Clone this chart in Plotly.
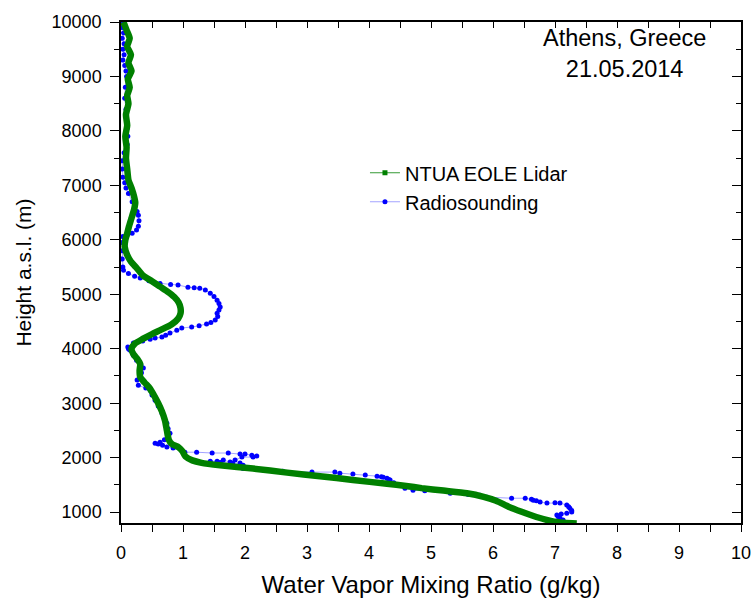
import plotly.graph_objects as go

# Lidar (NTUA EOLE) water vapor mixing ratio profile
lidar_wvmr = [0.04, 0.09, 0.14, 0.10, 0.16, 0.12, 0.17, 0.11, 0.14, 0.10, 0.12, 0.08, 0.10, 0.07, 0.09,
              0.08, 0.10, 0.12, 0.17, 0.21, 0.23, 0.21, 0.17, 0.13, 0.10, 0.07, 0.06, 0.10, 0.16, 0.24,
              0.36, 0.50, 0.63, 0.75, 0.86, 0.93, 0.96, 0.96, 0.92, 0.82, 0.65, 0.50, 0.35, 0.22, 0.17,
              0.20, 0.27, 0.31, 0.30, 0.31, 0.38, 0.46, 0.53, 0.60, 0.66, 0.71, 0.74, 0.77, 0.82, 0.93,
              0.99, 1.04, 1.15, 1.30, 1.60, 2.13, 2.68, 3.21, 3.74, 4.29, 4.60, 4.85, 5.20, 5.58, 5.85,
              6.05, 6.25, 6.45, 6.70, 6.95, 7.15, 7.35]
lidar_height = [10000, 9850, 9700, 9550, 9400, 9250, 9100, 8950, 8800, 8650, 8500, 8300, 8100, 7900, 7700,
                7500, 7300, 7100, 6950, 6800, 6680, 6550, 6400, 6250, 6120, 6000, 5870, 5720, 5600, 5500,
                5340, 5240, 5140, 5050, 4950, 4850, 4750, 4650, 4550, 4450, 4350, 4270, 4180, 4090, 4000,
                3900, 3800, 3720, 3600, 3480, 3380, 3280, 3150, 3000, 2850, 2680, 2500, 2330, 2250, 2190,
                2120, 2020, 1950, 1905, 1860, 1800, 1725, 1660, 1590, 1520, 1480, 1440, 1395, 1345, 1280,
                1210, 1100, 1010, 910, 835, 805, 790]

# Radiosounding profile
radio_wvmr = [0.03, 0.02, 0.04, 0.02, 0.05, 0.03, 0.05, 0.03, 0.06, 0.08, 0.09, 0.07, 0.06, 0.08, 0.09,
              0.10, 0.11, 0.10, 0.05, 0.02, 0.02, 0.03, 0.06, 0.08, 0.12, 0.18, 0.22, 0.26, 0.28, 0.29,
              0.28, 0.25, 0.18, 0.10, 0.03, 0.02, 0.02, 0.02, 0.03, 0.04, 0.12, 0.22, 0.31, 0.45, 0.63,
              0.80, 0.92, 1.08, 1.18, 1.27, 1.36, 1.44, 1.50, 1.55, 1.58, 1.60, 1.58, 1.55, 1.56, 1.52,
              1.45, 1.38, 1.26, 1.14, 0.98, 0.90, 0.79, 0.72, 0.66, 0.55, 0.47, 0.35, 0.20, 0.11, 0.12,
              0.14, 0.20, 0.25, 0.32, 0.36, 0.33, 0.26, 0.28, 0.40, 0.47, 0.50, 0.55, 0.60, 0.66, 0.70,
              0.74, 0.76, 0.79, 0.76, 0.70, 0.63, 0.55, 0.60, 0.67, 0.74, 0.84, 1.03, 1.22, 1.47, 1.73,
              1.92, 2.00, 2.11, 2.19, 2.13, 1.95, 1.84, 1.76, 1.65, 1.55, 1.44, 1.60, 1.80, 1.92, 1.97,
              1.97, 2.30, 2.61, 3.08, 3.45, 3.53, 3.74, 3.94, 4.13, 4.20, 4.23, 4.29, 4.32, 4.34, 4.40,
              4.50, 4.58, 4.71, 4.90, 5.31, 5.60, 5.79, 5.90, 6.30, 6.52, 6.62, 6.65, 6.70, 6.76, 6.87,
              7.00, 7.08, 7.19, 7.22, 7.24, 7.27, 7.27, 7.19, 7.10, 7.03, 7.05, 7.08, 7.13]
radio_height = [10000, 9900, 9800, 9700, 9600, 9500, 9400, 9300, 9200, 9100, 9000, 8800, 8600, 8400, 8200,
                8050, 7900, 7750, 7600, 7450, 7300, 7150, 7050, 6950, 6850, 6700, 6600, 6520, 6450, 6350,
                6250, 6180, 6120, 6090, 6060, 5950, 5800, 5650, 5500, 5440, 5380, 5330, 5297, 5250, 5200,
                5180, 5170, 5130, 5120, 5110, 5080, 5020, 4960, 4890, 4830, 4765, 4710, 4650, 4590, 4530,
                4480, 4455, 4420, 4400, 4380, 4340, 4290, 4250, 4215, 4195, 4175, 4140, 4105, 4030, 4000,
                3975, 3880, 3790, 3700, 3645, 3560, 3425, 3330, 3280, 3240, 3150, 3055, 2950, 2820, 2720,
                2630, 2530, 2450, 2380, 2330, 2285, 2265, 2250, 2230, 2195, 2175, 2100, 2100, 2085, 2085,
                2065, 2065, 2045, 2030, 2010, 2010, 1955, 1920, 1955, 1935, 1935, 1910, 1895, 1900, 1860,
                1800, 1770, 1750, 1735, 1735, 1715, 1700, 1680, 1660, 1650, 1640, 1620, 1600, 1590, 1540,
                1495, 1440, 1400, 1390, 1345, 1325, 1310, 1275, 1255, 1255, 1235, 1220, 1210, 1185, 1165,
                1170, 1165, 1130, 1100, 1070, 1030, 1000, 980, 965, 945, 920, 890, 855]

x_range = [0, 10]
y_range = [800, 10000]
legend_names = ["NTUA EOLE Lidar", "Radiosounding"]
x_title = "Water Vapor Mixing Ratio (g/kg)"
y_title = "Height a.s.l. (m)"
site_text = "Athens, Greece<br>21.05.2014"

FONT = "Liberation Sans, Arial, sans-serif"
GREEN = "rgb(0,128,0)"
BLUE = "rgb(0,0,255)"
LIGHTBLUE = "rgb(140,140,255)"

fig = go.Figure()

# Radiosounding (drawn first, below the lidar)
fig.add_trace(go.Scatter(
    x=radio_wvmr, y=radio_height, mode="lines+markers", name=legend_names[1],
    line=dict(color=LIGHTBLUE, width=0.8),
    marker=dict(color=BLUE, size=5, symbol="circle"),
    showlegend=False,
))
# Lidar thick curve
fig.add_trace(go.Scatter(
    x=lidar_wvmr, y=lidar_height, mode="lines", name=legend_names[0],
    line=dict(color=GREEN, width=6.5, shape="spline", smoothing=0.6),
    showlegend=False,
))
# Legend entries (legend-only)
fig.add_trace(go.Scatter(
    x=[None], y=[None], mode="lines+markers", name=legend_names[0],
    line=dict(color=GREEN, width=0.8), marker=dict(color=GREEN, size=5, symbol="square"),
))
fig.add_trace(go.Scatter(
    x=[None], y=[None], mode="lines+markers", name=legend_names[1],
    line=dict(color=LIGHTBLUE, width=0.8), marker=dict(color=BLUE, size=5, symbol="circle"),
))

axis_common = dict(showgrid=False, zeroline=False, showline=True, linecolor="black", linewidth=1.5,
                   automargin=False)

fig.update_layout(
    width=752, height=598,
    margin=dict(l=121, r=11, t=22, b=75),
    paper_bgcolor="white", plot_bgcolor="white",
    font=dict(family=FONT, color="black"),
    xaxis=dict(range=x_range, dtick=1, tick0=0, ticks="outside", ticklen=7, tickwidth=1.3, tickcolor="black",
               minor=dict(dtick=0.5, ticks="outside", ticklen=7, tickwidth=1.3, tickcolor="black"),
               tickfont=dict(size=18, family=FONT), ticklabelstandoff=6,
               title=dict(text=x_title, font=dict(size=24, family=FONT), standoff=34),
               **axis_common),
    yaxis=dict(range=y_range, dtick=1000, tick0=0, tickformat="d", ticks="outside", ticklen=9, tickwidth=1.3,
               tickcolor="black",
               minor=dict(dtick=500, ticks="outside", ticklen=5, tickwidth=1.3, tickcolor="black"),
               tickfont=dict(size=18, family=FONT), ticklabelstandoff=5,
               title=dict(text=y_title, font=dict(size=21, family=FONT), standoff=14),
               **axis_common),
    xaxis2=dict(range=x_range, overlaying="x", side="top", dtick=1, tick0=0, ticks="inside", ticklen=6,
                tickwidth=1.3, tickcolor="black", showticklabels=False,
                minor=dict(dtick=0.5, ticks="inside", ticklen=6, tickwidth=1.3, tickcolor="black"),
                **axis_common),
    yaxis2=dict(range=y_range, overlaying="y", side="right", dtick=1000, tick0=0, ticks="inside", ticklen=9,
                tickwidth=1.3, tickcolor="black", showticklabels=False,
                minor=dict(dtick=500, ticks="inside", ticklen=5, tickwidth=1.3, tickcolor="black"),
                **axis_common),
    legend=dict(x=0.3935, y=0.738, xanchor="left", yanchor="top", bgcolor="rgba(0,0,0,0)",
                font=dict(size=20, family=FONT), tracegroupgap=0),
    annotations=[dict(text=site_text, xref="paper", yref="paper", x=0.812, y=0.938,
                      xanchor="center", yanchor="middle", showarrow=False, align="center",
                      font=dict(size=23.5, family=FONT))],
)

# dummy trace to activate the mirrored axes
fig.add_trace(go.Scatter(x=[None], y=[None], xaxis="x2", yaxis="y2", showlegend=False, hoverinfo="skip"))

fig.write_html("out.html")
